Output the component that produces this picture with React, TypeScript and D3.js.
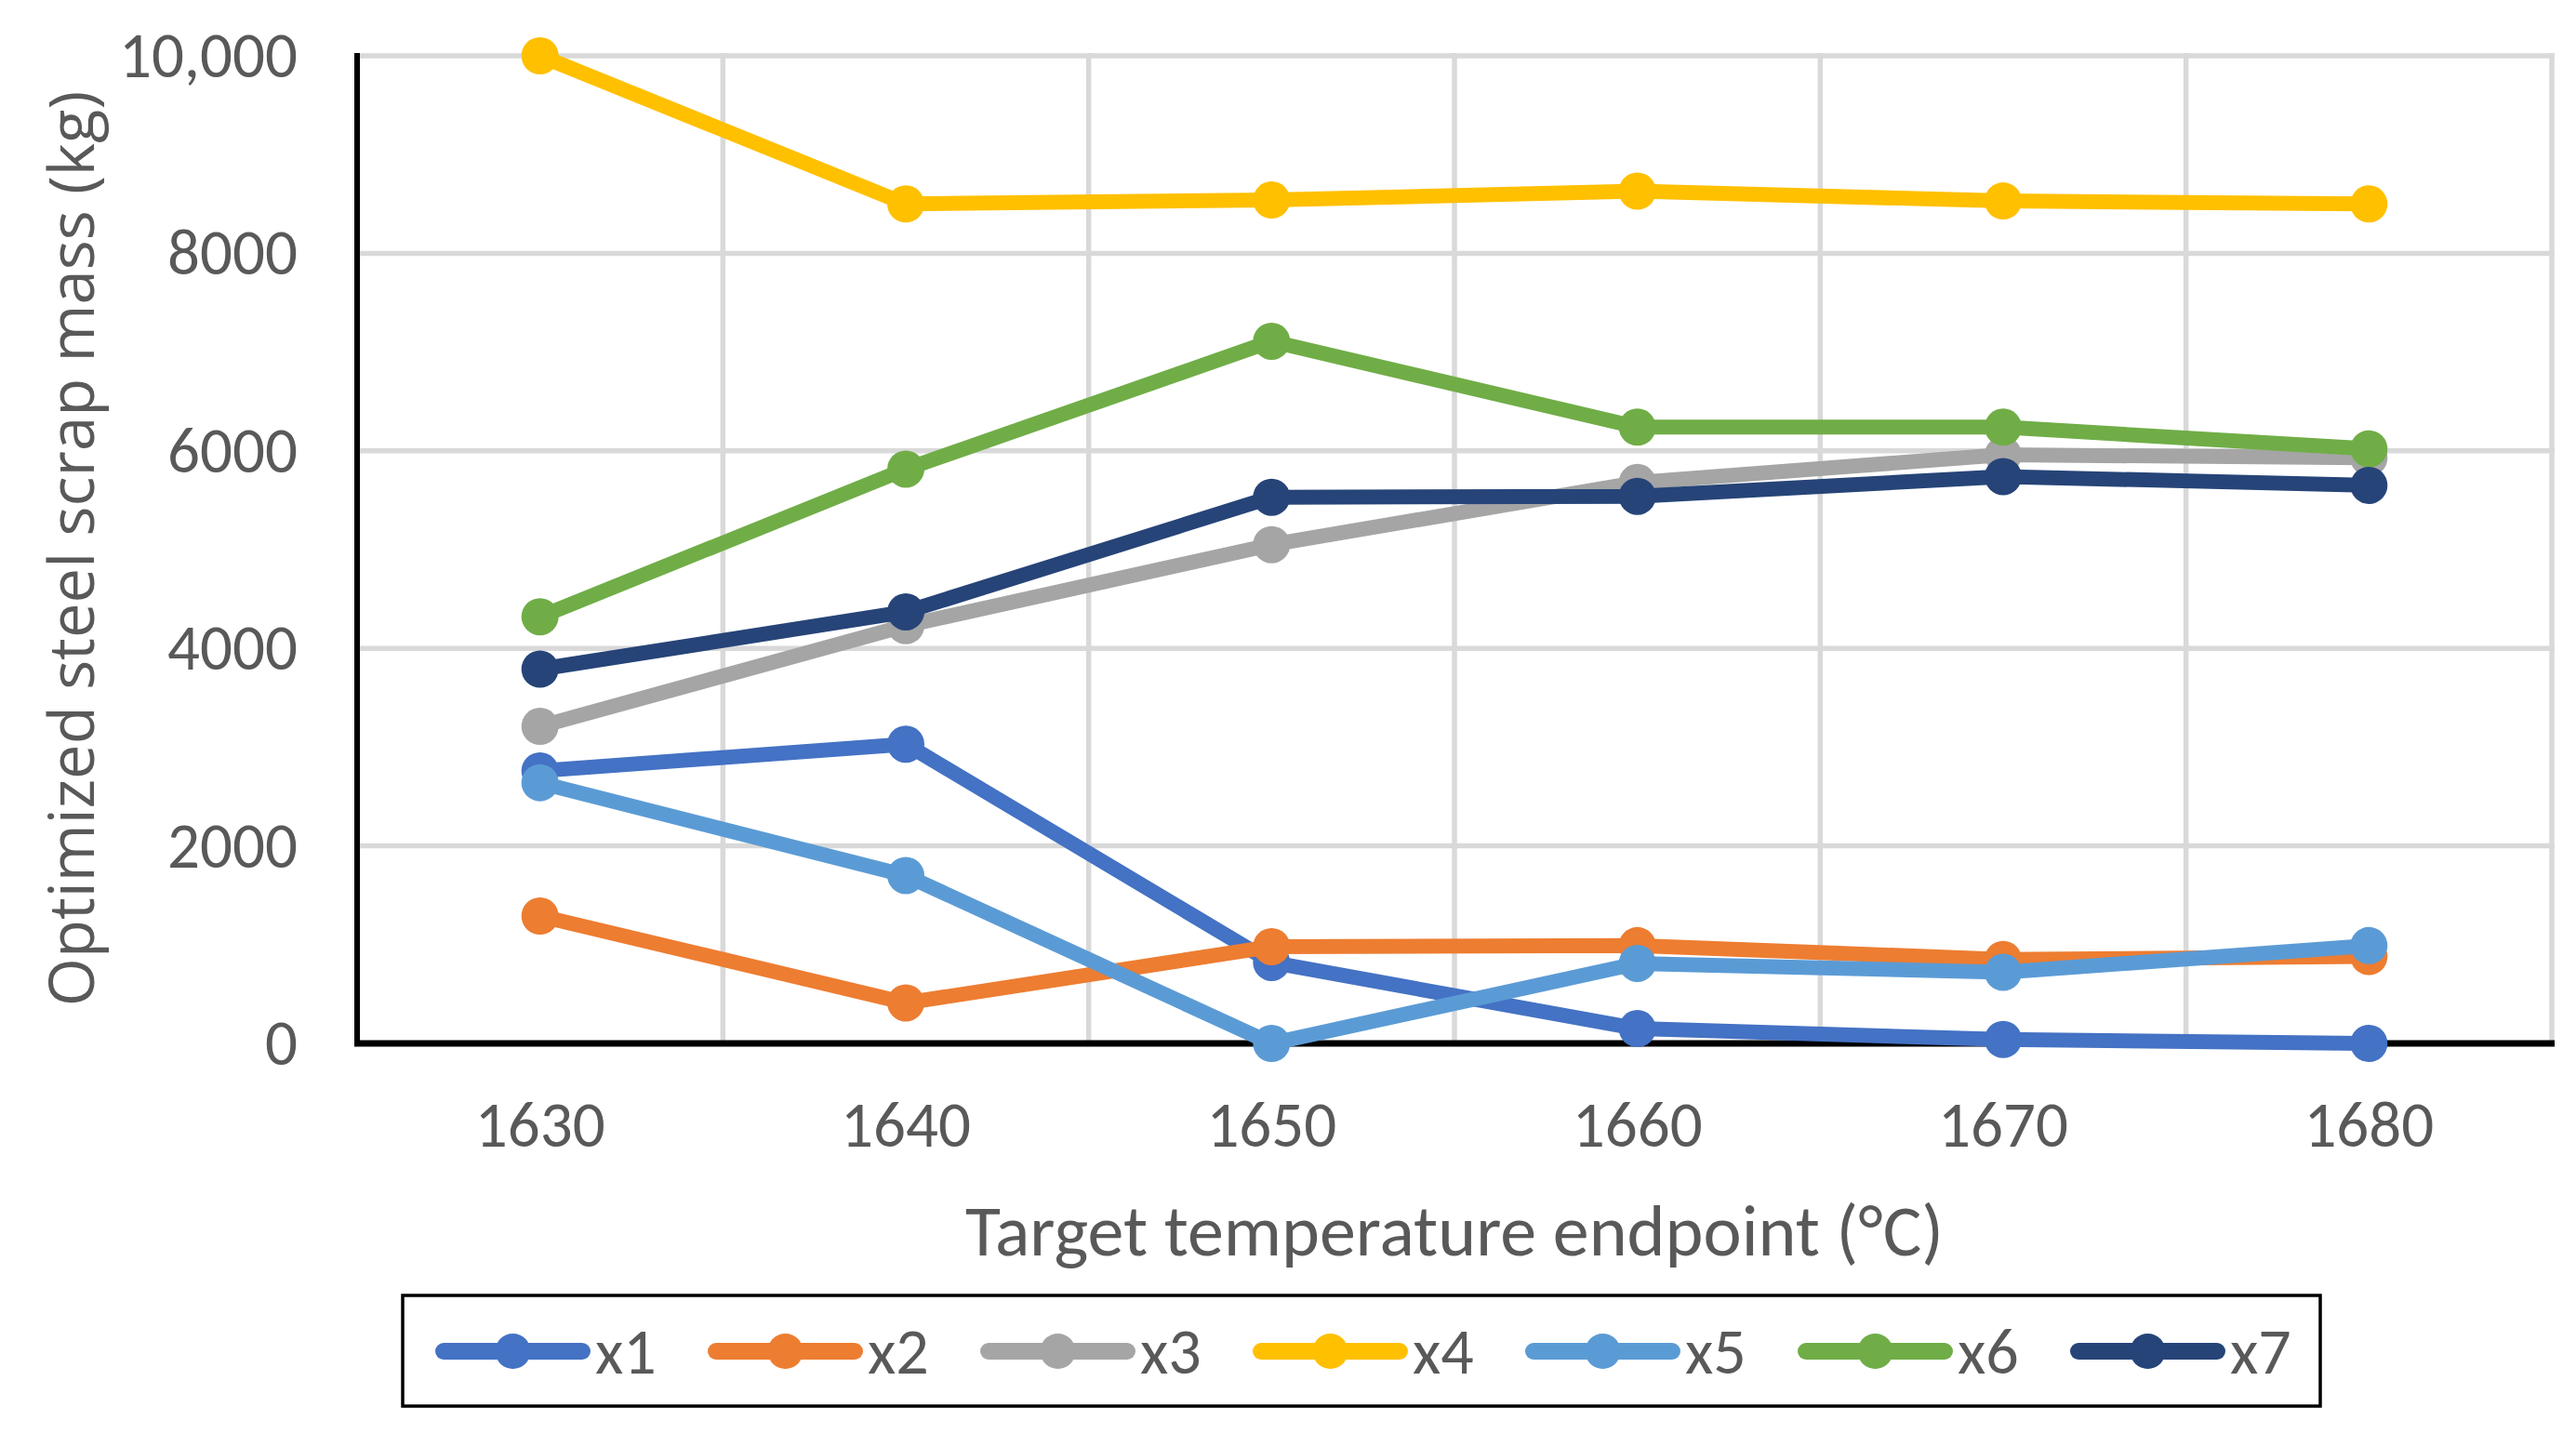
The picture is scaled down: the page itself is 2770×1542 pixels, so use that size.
import * as d3 from "d3";
import React from "react";

const temps = [1630, 1640, 1650, 1660, 1670, 1680];
const yTicks = [0, 2000, 4000, 6000, 8000, 10000];
const seriesNames = ["x1", "x2", "x3", "x4", "x5", "x6", "x7"];
const seriesColors = ["#4472C4", "#ED7D31", "#A5A5A5", "#FFC000", "#5B9BD5", "#70AD47", "#264478"];

const x1 = [2760, 3030, 820, 150, 40, 0];
const x2 = [1290, 410, 980, 990, 850, 880];
const x3 = [3210, 4230, 5050, 5680, 5960, 5930];
const x4 = [10000, 8500, 8540, 8630, 8530, 8500];
const x5 = [2640, 1700, 0, 810, 720, 990];
const x6 = [4320, 5815, 7110, 6240, 6240, 6020];
const x7 = [3790, 4370, 5530, 5540, 5740, 5650];
const seriesValues = [x1, x2, x3, x4, x5, x6, x7];

const W = 2770;
const H = 1542;
const left = 384;
const right = 2744;
const top = 60;
const bottom = 1122;

const tickFont = "Carlito, Lato, 'Liberation Sans', sans-serif";
const textColor = "#595959";

const App: React.FC = () => {
    const x = d3.scaleLinear().domain([1625, 1685]).range([left, right]);
    const y = d3.scaleLinear().domain([0, 10000]).range([bottom, top]);

    // vertical gridlines sit between the categories
    const xGrid = d3.range(1635, 1686, 10);

    const line = d3.line<number>()
        .x((_, i) => x(temps[i]))
        .y(v => y(v));

    const fmt = (v: number) => (v >= 10000 ? d3.format(",")(v) : String(v));

    // legend layout
    const legendLeft = 433;
    const legendTop = 1393;
    const legendW = 2495 - 433;
    const legendH = 119;
    const legendY = 1453;
    const itemStep = 293;
    const firstItem = 469;
    const lineLen = 165;

    return (
        <svg width={W} height={H} style={{ position: "absolute", left: 0, top: 0, background: "#fff" }}>
            <rect x={0} y={0} width={W} height={H} fill="#fff" />

            {/* gridlines */}
            {yTicks.filter(t => t > 0).map(t => (
                <line key={"h" + t} x1={left} x2={right + 3} y1={y(t)} y2={y(t)} stroke="#D9D9D9" strokeWidth={5.5} />
            ))}
            {xGrid.map(t => (
                <line key={"v" + t} x1={x(t)} x2={x(t)} y1={top - 3} y2={bottom} stroke="#D9D9D9" strokeWidth={5.5} />
            ))}

            {/* axes */}
            <line x1={left} x2={left} y1={top - 3} y2={bottom + 3} stroke="#000" strokeWidth={6} />
            <line x1={left - 3} x2={right + 3} y1={bottom} y2={bottom} stroke="#000" strokeWidth={7} />

            {/* y tick labels */}
            {yTicks.map(t => (
                <text key={"yl" + t} x={320} y={y(t) + 23} textAnchor="end" fontFamily={tickFont} fontSize={69} fill={textColor}>
                    {fmt(t)}
                </text>
            ))}

            {/* x tick labels */}
            {temps.map(t => (
                <text key={"xl" + t} x={x(t)} y={1233} textAnchor="middle" fontFamily={tickFont} fontSize={69} fill={textColor}>
                    {t}
                </text>
            ))}

            {/* axis titles */}
            <text x={(left + right) / 2} y={1350} textAnchor="middle" fontFamily={tickFont} fontSize={78} fill={textColor}>
                Target temperature endpoint (°C)
            </text>
            <text transform={`translate(101, 590) rotate(-90)`} textAnchor="middle" fontFamily="'Open Sans', sans-serif" fontSize={67} fill={textColor}>
                Optimized steel scrap mass (kg)
            </text>

            {/* series */}
            {seriesValues.map((vals, si) => (
                <g key={seriesNames[si]}>
                    <path d={line(vals) || ""} fill="none" stroke={seriesColors[si]} strokeWidth={16} strokeLinejoin="round" strokeLinecap="round" />
                    {vals.map((v, i) => (
                        <circle key={i} cx={x(temps[i])} cy={y(v)} r={20} fill={seriesColors[si]} />
                    ))}
                </g>
            ))}

            {/* legend */}
            <rect x={legendLeft} y={legendTop} width={legendW} height={legendH} fill="none" stroke="#000" strokeWidth={3.5} />
            {seriesNames.map((name, si) => {
                const lx = firstItem + si * itemStep;
                return (
                    <g key={"lg" + name}>
                        <line x1={lx + 8} x2={lx + lineLen - 8} y1={legendY} y2={legendY} stroke={seriesColors[si]} strokeWidth={18} strokeLinecap="round" />
                        <circle cx={lx + lineLen / 2} cy={legendY} r={19} fill={seriesColors[si]} />
                        <text x={lx + lineLen + 6} y={1477} fontFamily={tickFont} fontSize={70} fill={textColor}>
                            {name}
                        </text>
                    </g>
                );
            })}
        </svg>
    );
};

export default App;
